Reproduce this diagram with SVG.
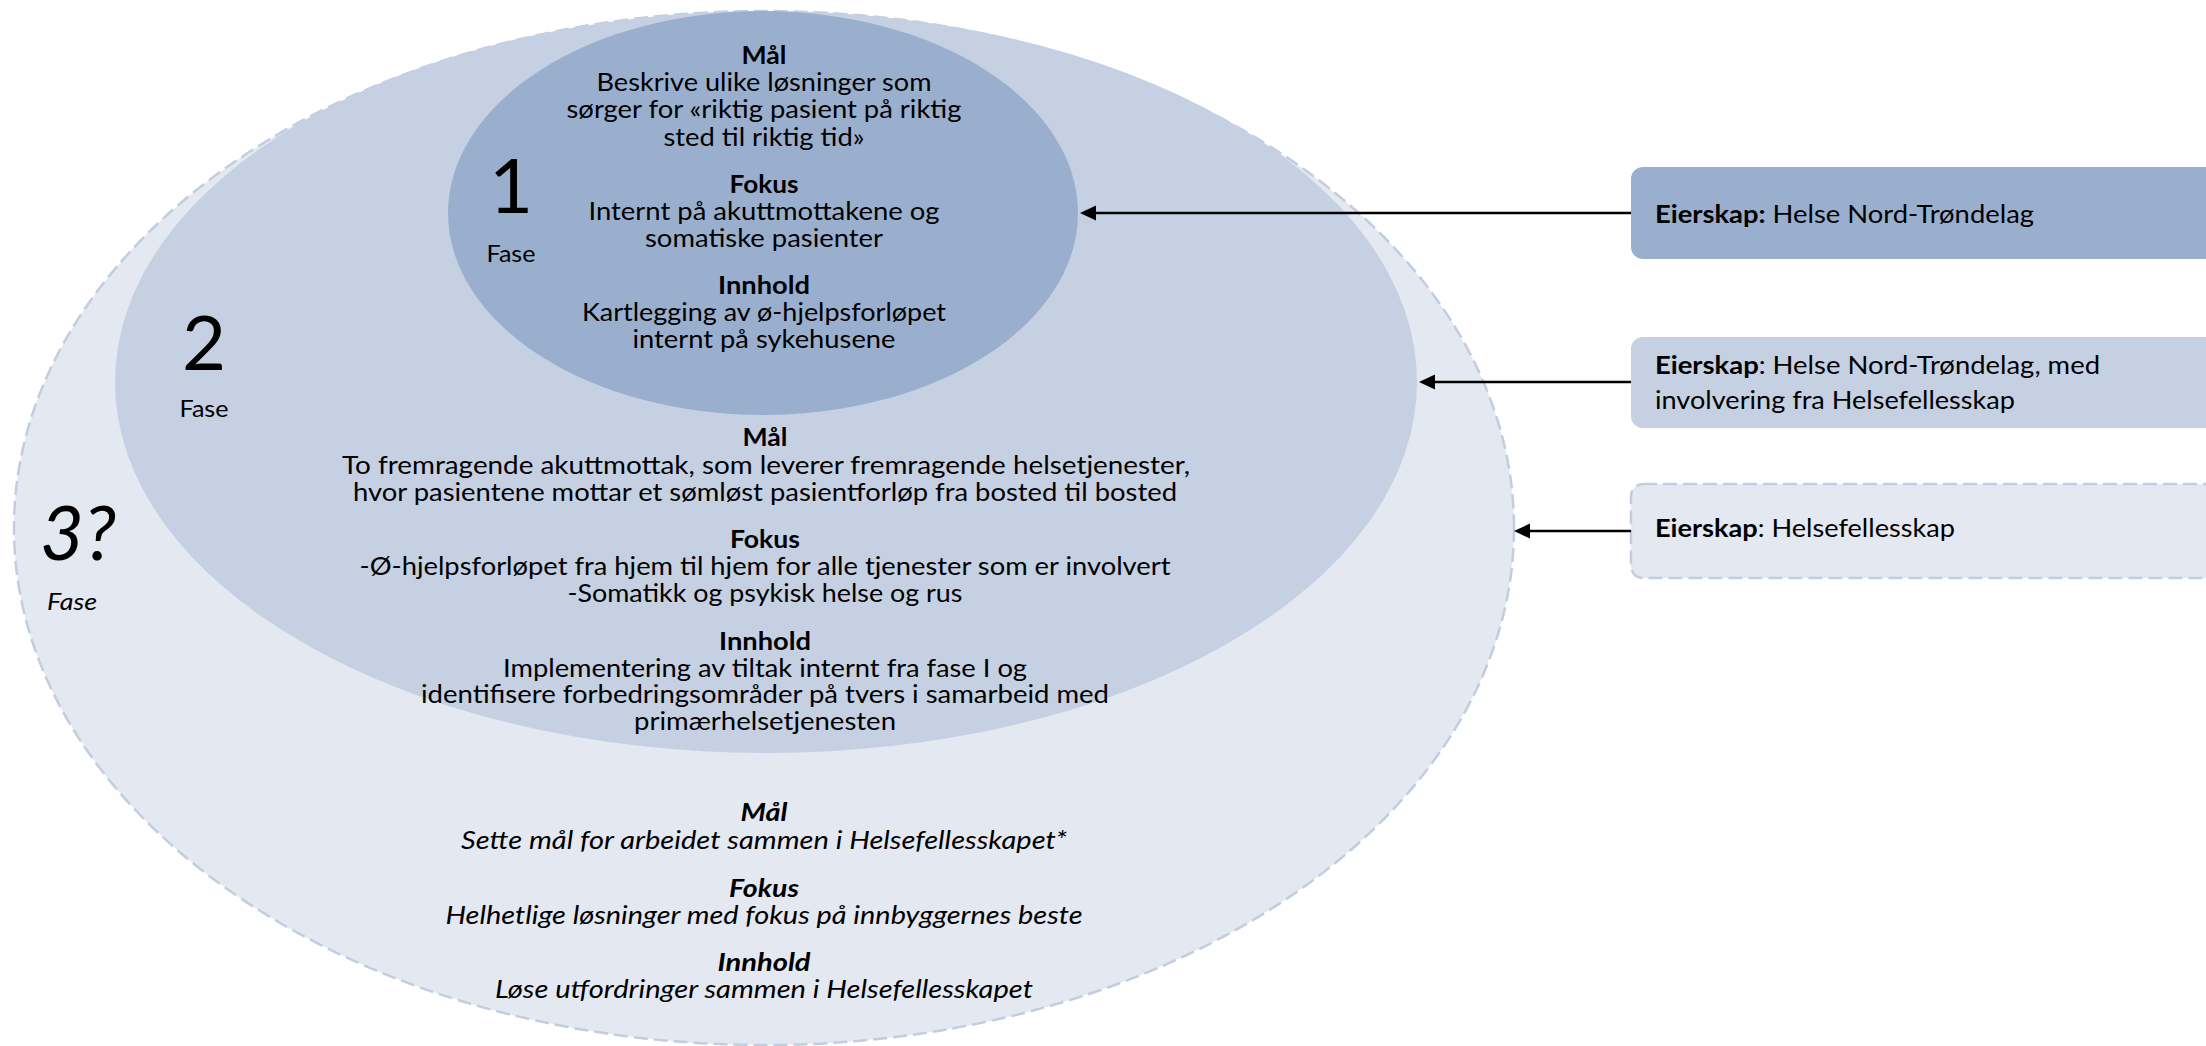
<svg xmlns="http://www.w3.org/2000/svg" width="2206" height="1046" viewBox="0 0 2206 1046">
  <defs>
    <style>
      text { font-family: Lato, "Open Sans", "Liberation Sans", sans-serif; fill: #000; }
      .body { font-size: 24.5px; text-anchor: middle; }
      .head { font-size: 24.5px; font-weight: bold; text-anchor: middle; }
      .it { font-style: italic; }
      .num { font-size: 76px; text-anchor: middle; }
      .fase { font-size: 24px; text-anchor: middle; }
      .owner { font-size: 25px; }
      .owner .b { font-weight: bold; }
      .dash { stroke: #C2CDE0; stroke-width: 2.5; stroke-dasharray: 14 6; }
      .conn { stroke: #000; stroke-width: 2.5; fill: none; marker-end: url(#arrow); }
    </style>
    <marker id="arrow" markerUnits="userSpaceOnUse" markerWidth="18" markerHeight="18" viewBox="0 -9 18 18" refX="0" refY="0" orient="auto">
      <path d="M0,-7.5 L16,0 L0,7.5 z" fill="#000"/>
    </marker>
  </defs>

  <!-- Phase 3: outer dashed ellipse -->
  <g id="phase3">
    <ellipse cx="764" cy="528" rx="750" ry="517" fill="#E4E8F1" class="dash"/>
    <text class="num it" x="78" y="560" font-size="84">3?</text>
    <text class="fase it" x="72" y="610" textLength="50" lengthAdjust="spacingAndGlyphs">Fase</text>
    <text class="head it" x="764" y="821" textLength="47" lengthAdjust="spacingAndGlyphs">Mål</text>
    <text class="body it" x="764" y="849" textLength="606" lengthAdjust="spacingAndGlyphs">Sette mål for arbeidet sammen i Helsefellesskapet*</text>
    <text class="head it" x="764" y="897" textLength="70" lengthAdjust="spacingAndGlyphs">Fokus</text>
    <text class="body it" x="764" y="924" textLength="637" lengthAdjust="spacingAndGlyphs">Helhetlige løsninger med fokus på innbyggernes beste</text>
    <text class="head it" x="764" y="971" textLength="93" lengthAdjust="spacingAndGlyphs">Innhold</text>
    <text class="body it" x="764" y="998" textLength="538" lengthAdjust="spacingAndGlyphs">Løse utfordringer sammen i Helsefellesskapet</text>
  </g>

  <!-- Phase 2: middle ellipse -->
  <g id="phase2">
    <ellipse cx="766" cy="382" rx="651" ry="371" fill="#C5D0E2"/>
    <text class="num" x="204" y="370">2</text>
    <text class="fase" x="204" y="417" textLength="49" lengthAdjust="spacingAndGlyphs">Fase</text>
    <text class="head" x="765" y="446" textLength="45" lengthAdjust="spacingAndGlyphs">Mål</text>
    <text class="body" x="766" y="474" textLength="848" lengthAdjust="spacingAndGlyphs">To fremragende akuttmottak, som leverer fremragende helsetjenester,</text>
    <text class="body" x="765" y="501" textLength="824" lengthAdjust="spacingAndGlyphs">hvor pasientene mottar et sømløst pasientforløp fra bosted til bosted</text>
    <text class="head" x="765" y="548" textLength="70" lengthAdjust="spacingAndGlyphs">Fokus</text>
    <text class="body" x="765" y="575" textLength="811" lengthAdjust="spacingAndGlyphs">-Ø-hjelpsforløpet fra hjem til hjem for alle tjenester som er involvert</text>
    <text class="body" x="765" y="602" textLength="395" lengthAdjust="spacingAndGlyphs">-Somatikk og psykisk helse og rus</text>
    <text class="head" x="765" y="650" textLength="92" lengthAdjust="spacingAndGlyphs">Innhold</text>
    <text class="body" x="765" y="677" textLength="524" lengthAdjust="spacingAndGlyphs">Implementering av tiltak internt fra fase I og</text>
    <text class="body" x="765" y="703" textLength="688" lengthAdjust="spacingAndGlyphs">identifisere forbedringsområder på tvers i samarbeid med</text>
    <text class="body" x="765" y="730" textLength="262" lengthAdjust="spacingAndGlyphs">primærhelsetjenesten</text>
  </g>

  <!-- Phase 1: inner ellipse -->
  <g id="phase1">
    <ellipse cx="763" cy="213" rx="315" ry="202" fill="#9AAFCE"/>
    <text class="num" x="511" y="213" font-size="74">1</text>
    <text class="fase" x="511" y="262" textLength="49" lengthAdjust="spacingAndGlyphs">Fase</text>
    <text class="head" x="764" y="64" textLength="45" lengthAdjust="spacingAndGlyphs">Mål</text>
    <text class="body" x="764" y="91" textLength="335" lengthAdjust="spacingAndGlyphs">Beskrive ulike løsninger som</text>
    <text class="body" x="764" y="118" textLength="395" lengthAdjust="spacingAndGlyphs">sørger for «riktig pasient på riktig</text>
    <text class="body" x="764" y="146" textLength="201" lengthAdjust="spacingAndGlyphs">sted til riktig tid»</text>
    <text class="head" x="764" y="193" textLength="69" lengthAdjust="spacingAndGlyphs">Fokus</text>
    <text class="body" x="764" y="220" textLength="351" lengthAdjust="spacingAndGlyphs">Internt på akuttmottakene og</text>
    <text class="body" x="764" y="247" textLength="238" lengthAdjust="spacingAndGlyphs">somatiske pasienter</text>
    <text class="head" x="764" y="294" textLength="92" lengthAdjust="spacingAndGlyphs">Innhold</text>
    <text class="body" x="764" y="321" textLength="364" lengthAdjust="spacingAndGlyphs">Kartlegging av ø-hjelpsforløpet</text>
    <text class="body" x="764" y="348" textLength="263" lengthAdjust="spacingAndGlyphs">internt på sykehusene</text>
  </g>

  <!-- Ownership boxes -->
  <g id="owner1">
    <rect x="1631" y="167" width="620" height="92" rx="12" fill="#9AAFCE"/>
    <text class="owner" x="1655" y="223" textLength="379" lengthAdjust="spacingAndGlyphs"><tspan class="b">Eierskap:</tspan> Helse Nord-Trøndelag</text>
  </g>
  <g id="owner2">
    <rect x="1631" y="337" width="620" height="91" rx="12" fill="#C5D0E2"/>
    <text class="owner" x="1655" y="374" textLength="445" lengthAdjust="spacingAndGlyphs"><tspan class="b">Eierskap</tspan>: Helse Nord-Trøndelag, med</text>
    <text class="owner" x="1655" y="409" textLength="360" lengthAdjust="spacingAndGlyphs">involvering fra Helsefellesskap</text>
  </g>
  <g id="owner3">
    <rect x="1631" y="484" width="620" height="94" rx="12" fill="#E4E8F1" class="dash"/>
    <text class="owner" x="1655" y="537" textLength="300" lengthAdjust="spacingAndGlyphs"><tspan class="b">Eierskap</tspan>: Helsefellesskap</text>
  </g>

  <!-- Connectors: each box points at its phase ring -->
  <g id="connectors">
    <line class="conn" x1="1631" y1="213" x2="1096" y2="213"/>
    <line class="conn" x1="1631" y1="382" x2="1435" y2="382"/>
    <line class="conn" x1="1631" y1="531" x2="1530" y2="531"/>
  </g>
</svg>
